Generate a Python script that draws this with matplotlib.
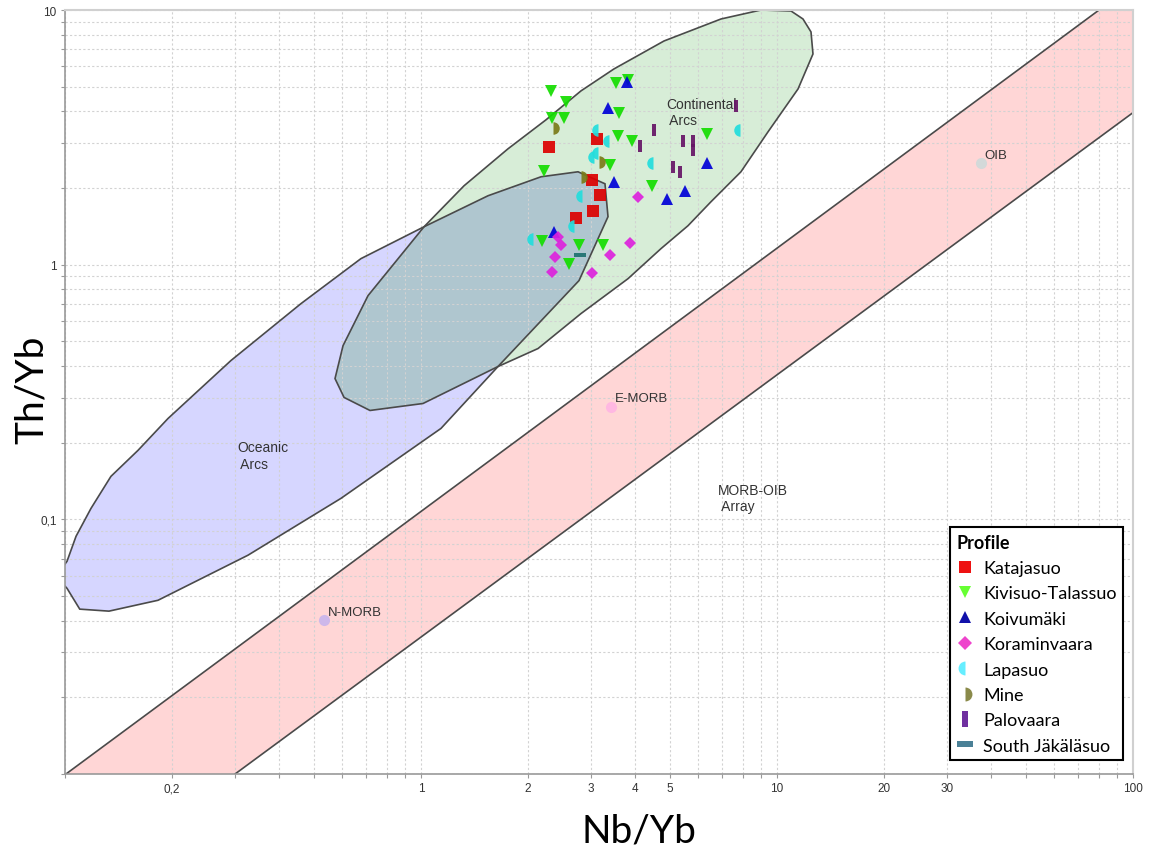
import matplotlib
matplotlib.use('Agg')
import matplotlib.pyplot as plt
from matplotlib.patches import Polygon
from matplotlib.lines import Line2D

plt.rcParams['font.family'] = ['Liberation Sans', 'DejaVu Sans']

# samples: Nb/Yb (x), Th/Yb (y)
katajasuo_x = [2.29, 3.12, 3.02, 3.18, 3.04, 2.72]
katajasuo_y = [2.90, 3.12, 2.15, 1.88, 1.63, 1.53]
kivisuo_x = [2.32, 2.55, 2.33, 2.52, 3.53, 3.82, 3.60, 3.58, 3.91, 6.36,
             2.22, 3.40, 4.46, 2.19, 2.78, 3.24, 2.60]
kivisuo_y = [4.81, 4.36, 3.77, 3.77, 5.17, 5.31, 3.95, 3.21, 3.06, 3.26,
             2.34, 2.47, 2.04, 1.24, 1.20, 1.20, 1.01]
koivumaki_x = [3.79, 3.35, 3.48, 2.36, 4.91, 5.51, 6.36]
koivumaki_y = [5.22, 4.13, 2.12, 1.34, 1.81, 1.95, 2.51]
koraminvaara_x = [4.07, 2.43, 2.47, 3.87, 2.38, 3.40, 2.33, 3.02]
koraminvaara_y = [1.85, 1.28, 1.20, 1.22, 1.07, 1.09, 0.939, 0.930]
lapasuo_x = [3.14, 3.37, 3.06, 3.14, 4.48, 2.83, 2.69, 2.06, 7.87]
lapasuo_y = [3.38, 3.06, 2.65, 2.75, 2.51, 1.86, 1.42, 1.26, 3.38]
mine_x = [2.35, 3.16, 2.81]
mine_y = [3.45, 2.53, 2.21]
palovaara_x = [7.67, 4.51, 4.12, 5.44, 5.81, 5.81, 5.10, 5.34]
palovaara_y = [4.20, 3.38, 2.93, 3.06, 3.06, 2.82, 2.42, 2.32]
south_jak_x = [2.80]
south_jak_y = [1.09]

# reference compositions
ref_names = ["N-MORB", "E-MORB", "OIB"]
ref_x = [0.534, 3.42, 37.4]
ref_y = [0.0402, 0.277, 2.51]

# fields
oceanic_x = [0.110, 0.1013, 0.0943, 0.1013, 0.1074, 0.1183, 0.1346, 0.1603, 0.1947,
             0.2925, 0.460, 0.678, 1.02, 1.543, 2.174, 2.761, 3.287, 3.352, 2.779,
             1.645, 1.138, 0.596, 0.3266, 0.1825, 0.1329]
oceanic_y = [0.0444, 0.0536, 0.0598, 0.0684, 0.0858, 0.1104, 0.1475, 0.1865, 0.2489,
             0.4203, 0.703, 1.056, 1.409, 1.865, 2.214, 2.316, 2.078, 1.543, 0.866,
             0.398, 0.2275, 0.1209, 0.0723, 0.0481, 0.0436]
continental_x = [1.02, 1.321, 1.755, 2.244, 2.814, 3.484, 4.815, 6.961, 9.018, 10.95,
                 11.83, 12.46, 12.62, 11.46, 9.436, 7.920, 6.524, 5.623, 4.722, 3.815,
                 2.814, 2.132, 1.645, 1.013, 0.719, 0.608, 0.5734, 0.604, 0.710]
continental_y = [1.409, 2.041, 2.850, 3.704, 4.812, 5.870, 7.557, 9.220, 10.0, 9.91,
                 9.22, 8.20, 6.72, 4.90, 3.324, 2.316, 1.766, 1.422, 1.156, 0.881,
                 0.6425, 0.4685, 0.398, 0.285, 0.2676, 0.301, 0.357, 0.481, 0.756]
array_x = [0.0811, 120, 120, 0.2419]
array_y = [0.008, 15.15, 4.77, 0.008]

xticks = [0.1, 0.2, 0.3, 0.4, 0.5, 0.6, 0.7, 0.8, 0.9, 1, 2, 3, 4, 5, 6, 7, 8, 9,
          10, 20, 30, 40, 50, 60, 70, 80, 90, 100]
xlabels = {0.2: "0,2", 1: "1", 2: "2", 3: "3", 4: "4", 5: "5", 10: "10", 20: "20",
           30: "30", 100: "100"}
yticks = [0.01, 0.02, 0.03, 0.04, 0.05, 0.06, 0.07, 0.08, 0.09, 0.1, 0.2, 0.3, 0.4,
          0.5, 0.6, 0.7, 0.8, 0.9, 1, 2, 3, 4, 5, 6, 7, 8, 9, 10]
ylabels = {0.1: "0,1", 1: "1", 10: "10"}

fig = plt.figure(figsize=(11.53, 8.54), dpi=100)
ax = fig.add_axes([65/1153, 1-775/854, 1068/1153, 764/854])
ax.set_xscale('log')
ax.set_yscale('log')
ax.set_xlim(0.1, 100)
ax.set_ylim(0.01, 10)

edge = '#4a4a4a'
band = Polygon(list(zip(array_x, array_y)), closed=True, facecolor='#ffd6d6', edgecolor='none', zorder=1)
blue = Polygon(list(zip(oceanic_x, oceanic_y)), closed=True, facecolor='#d6d6ff', edgecolor='none', zorder=1)
green = Polygon(list(zip(continental_x, continental_y)), closed=True, facecolor='#d7edd7', edgecolor='none', zorder=1)
for p in (band, blue, green):
    ax.add_patch(p)
overlap = Polygon(list(zip(continental_x, continental_y)), closed=True, facecolor='#afc6cf',
                  edgecolor='none', zorder=1.1)
ax.add_patch(overlap)
overlap.set_clip_path(blue)
for xs, ys in ((array_x, array_y), (oceanic_x, oceanic_y), (continental_x, continental_y)):
    ax.add_patch(Polygon(list(zip(xs, ys)), closed=True, fill=False, edgecolor=edge, lw=1.2, zorder=2))

# reference points
ref_colors = ['#cdb8ea', '#ffb8e2', '#d3d9d9']
for n, x, y, c in zip(ref_names, ref_x, ref_y, ref_colors):
    ax.plot(x, y, 'o', color=c, ms=8, mew=0, zorder=3)
    ax.annotate(n, (x, y), xytext=(2.5, 6), textcoords='offset points', fontsize=9.5,
                color='#333333', ha='left', va='center')

ax.text(4.88, 3.98, "Continental\n Arcs", fontsize=10, color='#333333', ha='left', va='center')
ax.text(0.304, 0.178, "Oceanic\n Arcs", fontsize=10, color='#333333', ha='left', va='center')
ax.text(6.83, 0.121, "MORB-OIB\n Array", fontsize=10, color='#333333', ha='left', va='center')

bar_v = [(-0.36, -1), (0.36, -1), (0.36, 1), (-0.36, 1)]
bar_h = [(-1, -0.36), (1, -0.36), (1, 0.36), (-1, 0.36)]

a = 0.92
ax.plot(katajasuo_x, katajasuo_y, 's', color='#dd0000', ms=8, mew=0, alpha=a, ls='none', zorder=3)
ax.plot(kivisuo_x, kivisuo_y, 'v', color='#14dd00', ms=9, mew=0, alpha=a, ls='none', zorder=3)
ax.plot(koivumaki_x, koivumaki_y, '^', color='#0000d8', ms=9, mew=0, alpha=a, ls='none', zorder=3)
ax.plot(koraminvaara_x, koraminvaara_y, 'D', color='#dd22dd', ms=6, mew=0, alpha=a, ls='none', zorder=3)
ax.plot(lapasuo_x, lapasuo_y, 'o', color='#22dddd', ms=9, mew=0, fillstyle='left',
        markerfacecoloralt='none', alpha=a, ls='none', zorder=3)
ax.plot(mine_x, mine_y, 'o', color='#7a7a18', ms=9, mew=0, fillstyle='right',
        markerfacecoloralt='none', alpha=a, ls='none', zorder=3)
ax.plot(palovaara_x, palovaara_y, marker=bar_v, color='#661466', ms=8, mew=0, alpha=a, ls='none', zorder=3)
ax.plot(south_jak_x, south_jak_y, marker=bar_h, color='#1e7070', ms=8, mew=0, alpha=a, ls='none', zorder=3)

# axes styling
ax.set_xticks(xticks, labels=[xlabels.get(t, "") for t in xticks])
ax.set_yticks(yticks, labels=[ylabels.get(t, "") for t in yticks])
ax.minorticks_off()
ax.grid(True, color='#d2d2d2', linestyle=(0, (2, 2)), linewidth=0.8)
ax.tick_params(length=3, width=0.8, color='#999999', labelsize=8.5, labelcolor='#333333', pad=3)
for s in ('left', 'bottom'):
    ax.spines[s].set_color('#999999')
    ax.spines[s].set_linewidth(1.2)
for s in ('top', 'right'):
    ax.spines[s].set_color('#d0d0d0')
    ax.spines[s].set_linewidth(1.5)

lab_font = ['Lato', 'DejaVu Sans']
fig.text(639/1153, 1-832/854, "Nb/Yb", fontsize=28, family=lab_font, ha='center', va='center')
fig.text(32/1153, 1-390/854, "Th/Yb", fontsize=28, family=lab_font, rotation=90, ha='center', va='center')

# legend
names = ["Katajasuo", "Kivisuo-Talassuo", "Koivumäki", "Koraminvaara", "Lapasuo", "Mine",
         "Palovaara", "South Jäkäläsuo"]
handles = [
    Line2D([], [], ls='none', marker='s', color='#ee1111', ms=8, mew=0),
    Line2D([], [], ls='none', marker='v', color='#66ff33', ms=9, mew=0),
    Line2D([], [], ls='none', marker='^', color='#1111aa', ms=9, mew=0),
    Line2D([], [], ls='none', marker='D', color='#ee44cc', ms=7.5, mew=0),
    Line2D([], [], ls='none', marker='o', color='#66eeff', ms=10, mew=0, fillstyle='left', markerfacecoloralt='none'),
    Line2D([], [], ls='none', marker='o', color='#8a8a4a', ms=10, mew=0, fillstyle='right', markerfacecoloralt='none'),
    Line2D([], [], ls='none', marker=bar_v, color='#7030a0', ms=11, mew=0),
    Line2D([], [], ls='none', marker=bar_h, color='#4a8096', ms=11, mew=0),
]
leg = ax.legend(handles, names, loc='lower right', bbox_to_anchor=(0.9906, 0.0183), borderaxespad=0,
                title="Profile", alignment='left', fancybox=False, framealpha=1, edgecolor='black',
                prop={'family': lab_font, 'size': 13}, title_fontproperties={'family': lab_font, 'size': 13, 'weight': 'bold'},
                handlelength=1.0, handletextpad=0.5, borderpad=0.35, labelspacing=0.52)
leg.get_frame().set_linewidth(1.5)
leg.set_zorder(5)

fig.savefig('out.png', dpi=100)
